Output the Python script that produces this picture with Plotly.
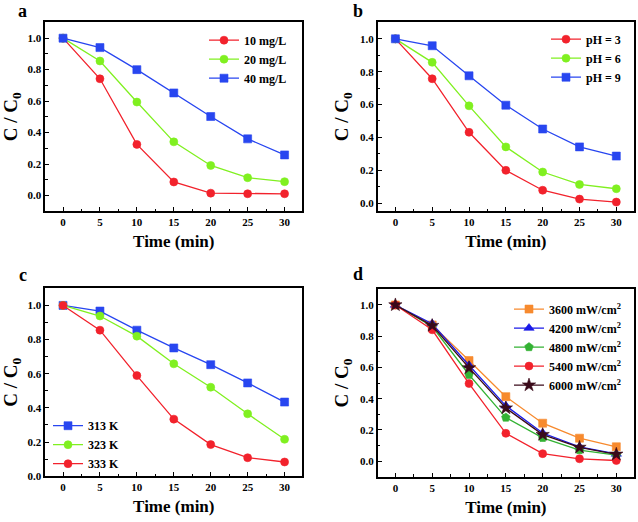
import plotly.graph_objects as go

time = [0, 5, 10, 15, 20, 25, 30]

# Panel a: initial concentration
a_names = ["10 mg/L", "20 mg/L", "40 mg/L"]
a_10 = [1.0, 0.742, 0.325, 0.086, 0.015, 0.011, 0.011]
a_20 = [1.0, 0.855, 0.594, 0.341, 0.191, 0.113, 0.088]
a_40 = [1.0, 0.940, 0.800, 0.652, 0.502, 0.360, 0.258]

# Panel b: pH
b_names = ["pH = 3", "pH = 6", "pH = 9"]
b_3 = [1.0, 0.757, 0.431, 0.199, 0.078, 0.024, 0.006]
b_6 = [1.0, 0.857, 0.592, 0.342, 0.189, 0.113, 0.087]
b_9 = [1.0, 0.958, 0.775, 0.596, 0.451, 0.342, 0.286]

# Panel c: temperature
c_names = ["313 K", "323 K", "333 K"]
c_313 = [1.0, 0.967, 0.855, 0.751, 0.653, 0.546, 0.434]
c_323 = [1.0, 0.938, 0.820, 0.658, 0.521, 0.365, 0.216]
c_333 = [1.0, 0.855, 0.589, 0.334, 0.185, 0.108, 0.083]

# Panel d: light intensity
d_names = ["3600 mW/cm<sup>2</sup>", "4200 mW/cm<sup>2</sup>", "4800 mW/cm<sup>2</sup>",
           "5400 mW/cm<sup>2</sup>", "6000 mW/cm<sup>2</sup>"]
d_3600 = [1.0, 0.872, 0.644, 0.413, 0.243, 0.147, 0.092]
d_4200 = [1.0, 0.880, 0.614, 0.354, 0.180, 0.092, 0.046]
d_4800 = [1.0, 0.862, 0.553, 0.279, 0.149, 0.071, 0.038]
d_5400 = [1.0, 0.841, 0.497, 0.178, 0.048, 0.015, 0.004]
d_6000 = [1.0, 0.868, 0.597, 0.340, 0.170, 0.088, 0.044]

x_ticks = [0, 5, 10, 15, 20, 25, 30]
y_ticks = [0.0, 0.2, 0.4, 0.6, 0.8, 1.0]
y_ticklabels = ["0.0", "0.2", "0.4", "0.6", "0.8", "1.0"]

RED = "#F2222C"
GREEN = "#80F020"
BLUE = "#2846F0"
ORANGE = "#F78A2E"
DBLUE = "#1A1AE8"
DGREEN = "#33B233"

FONT = "Liberation Serif"

fig = go.Figure()


def add(x, y, name, color, symbol, xa, ya, legend, size=8, lc=None):
    fig.add_trace(go.Scatter(
        x=x, y=y, name=name, mode="lines+markers",
        line=dict(color=lc or color, width=1.3),
        marker=dict(symbol=symbol, size=size, color=color,
                    line=dict(color=lc or color, width=0.6)),
        xaxis=xa, yaxis=ya, legend=legend))


add(time, a_10, a_names[0], RED, "circle", "x", "y", "legend")
add(time, a_20, a_names[1], GREEN, "circle", "x", "y", "legend")
add(time, a_40, a_names[2], BLUE, "square", "x", "y", "legend")

add(time, b_3, b_names[0], RED, "circle", "x2", "y2", "legend2")
add(time, b_6, b_names[1], GREEN, "circle", "x2", "y2", "legend2")
add(time, b_9, b_names[2], BLUE, "square", "x2", "y2", "legend2")

add(time, c_313, c_names[0], BLUE, "square", "x3", "y3", "legend3")
add(time, c_323, c_names[1], GREEN, "circle", "x3", "y3", "legend3")
add(time, c_333, c_names[2], RED, "circle", "x3", "y3", "legend3")

add(time, d_3600, d_names[0], ORANGE, "square", "x4", "y4", "legend4")
add(time, d_4200, d_names[1], DBLUE, "triangle-up", "x4", "y4", "legend4", size=9)
add(time, d_4800, d_names[2], DGREEN, "pentagon", "x4", "y4", "legend4", size=9)
add(time, d_5400, d_names[3], RED, "circle", "x4", "y4", "legend4")
add(time, d_6000, d_names[4], "#3A0A1A", "star", "x4", "y4", "legend4", size=10)

W, H = 638, 522
left_dom = [45.3 / W, 302.3 / W]
right_dom = [377.7 / W, 634.0 / W]
top_dom = [1 - 213.7 / H, 1 - 22.7 / H]
bot_c = [1 - 481.7 / H, 1 - 291.7 / H]
bot_d = [1 - 482.3 / H, 1 - 292.7 / H]

tickfont = dict(family=FONT, size=11, color="black", weight="bold")
xtitlefont = dict(family=FONT, size=17, color="black", weight="bold")
ytitlefont = dict(family=FONT, size=19, color="black", weight="bold")


def xaxis(dom, anchor):
    return dict(domain=dom, anchor=anchor, range=[-2.4, 32.4],
                tickvals=x_ticks, ticks="inside", ticklen=4, tickwidth=1.2,
                tickcolor="black", showline=True, linecolor="black",
                linewidth=1.6, mirror=True, showgrid=False, zeroline=False,
                tickfont=tickfont,
                minor=dict(dtick=2.5, tick0=0, ticks="inside", ticklen=2.5,
                           tickwidth=1, tickcolor="black", showgrid=False),
                title=dict(text="Time (min)", font=xtitlefont, standoff=8))


def yaxis(dom, anchor, rng):
    return dict(domain=dom, anchor=anchor, range=rng,
                tickvals=y_ticks, ticktext=y_ticklabels, ticks="inside",
                ticklen=4, tickwidth=1.2, tickcolor="black", showline=True,
                linecolor="black", linewidth=1.6, mirror=True, showgrid=False,
                zeroline=False, tickfont=tickfont,
                minor=dict(dtick=0.1, tick0=0, ticks="inside", ticklen=2.5,
                           tickwidth=1, tickcolor="black", showgrid=False),
                title=dict(text="C / C<sub>0</sub>", font=ytitlefont, standoff=6))


legfont = dict(family=FONT, size=12, color="black", weight="bold")


def legend(x, y, xanchor="right", yanchor="top"):
    return dict(x=x, y=y, xanchor=xanchor, yanchor=yanchor, xref="paper",
                yref="paper", bgcolor="rgba(0,0,0,0)", borderwidth=0,
                font=legfont, itemwidth=30, tracegroupgap=0,
                itemsizing="trace")


fig.update_layout(
    width=W, height=H, autosize=False,
    margin=dict(l=0, r=0, t=0, b=0),
    paper_bgcolor="white", plot_bgcolor="white",
    showlegend=True,
    xaxis=xaxis(left_dom, "y"), yaxis=yaxis(top_dom, "x", [-0.1, 1.1]),
    xaxis2=xaxis(right_dom, "y2"), yaxis2=yaxis(top_dom, "x2", [-0.05, 1.1]),
    xaxis3=xaxis(left_dom, "y3"), yaxis3=yaxis(bot_c, "x3", [0.0, 1.1]),
    xaxis4=xaxis(right_dom, "y4"), yaxis4=yaxis(bot_d, "x4", [-0.1, 1.1]),
    legend=legend(292 / W, 1 - 26 / H),
    legend2=legend(626 / W, 1 - 25 / H),
    legend3=legend(48 / W, 1 - 416 / H, xanchor="left"),
    legend4=legend(626 / W, 1 - 298 / H),
)

panel_font = dict(family=FONT, size=18, color="black", weight="bold")
for label, px, py in [("a", 22.7, 11), ("b", 358, 11), ("c", 22.7, 278), ("d", 358, 277)]:
    fig.add_annotation(text=label, x=px / W, y=1 - py / H, xref="paper",
                       yref="paper", showarrow=False, font=panel_font,
                       xanchor="center", yanchor="middle")

fig.write_html("out.html", config={"displayModeBar": False},
               post_script="document.body.style.margin='0';")
